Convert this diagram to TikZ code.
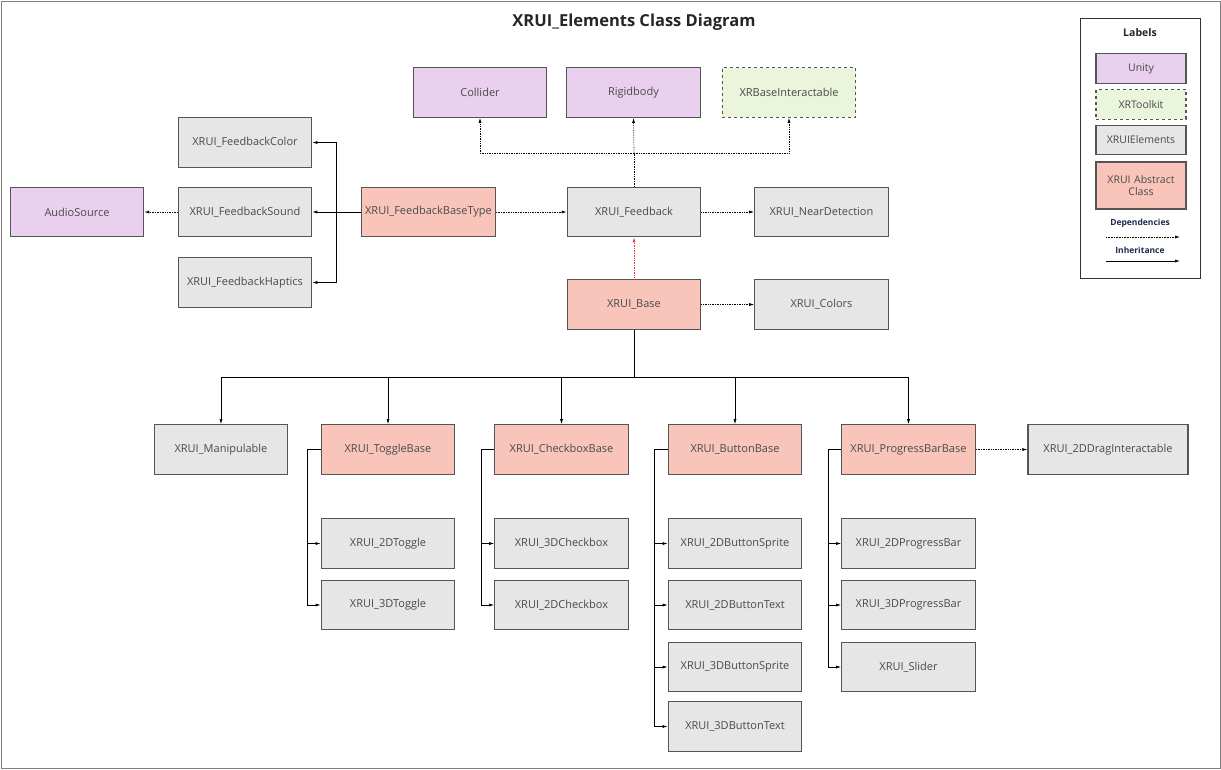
\documentclass[tikz,border=0pt]{standalone}
\usepackage{fontspec}
\setmainfont{Open Sans}
\usetikzlibrary{arrows.meta}
\definecolor{unityfill}{HTML}{E9D0EE}
\definecolor{xrtkfill}{HTML}{EAF5DC}
\definecolor{xruifill}{HTML}{E6E6E6}
\definecolor{absfill}{HTML}{F9C5BB}
\definecolor{boxline}{HTML}{555555}
\definecolor{boxtext}{HTML}{4A4A4A}
\definecolor{navytext}{HTML}{1F2A4D}
\tikzset{
  cls/.style={draw=boxline, line width=1.1pt, minimum width=133.5pt, minimum height=49.5pt,
    inner sep=0pt, text=boxtext, font=\fontsize{11}{13}\selectfont, align=center},
  unity/.style={cls, fill=unityfill},
  xrtk/.style={cls, fill=xrtkfill, dashed},
  xrui/.style={cls, fill=xruifill},
  xabs/.style={cls, fill=absfill},
  legbox/.style={minimum width=90pt, minimum height=29.5pt, font=\fontsize{10.5}{13}\selectfont},
  dep/.style={densely dotted, line width=0.7pt, -{Latex[length=5pt,width=3pt]}},
  inh/.style={line width=0.7pt, -{Latex[length=5pt,width=3pt]}}
}
\begin{document}
\begin{tikzpicture}[x=1pt, y=-1pt]
  % Frame
  \draw[gray, line width=1pt, fill=white] (1,1) rectangle (1220,768);
  \useasboundingbox (0,0) rectangle (1221,769);
  \node[font=\bfseries\fontsize{16.5}{19}\selectfont, text=black!85] (title) at (634,22) {XRUI\_Elements Class Diagram};

  % Unity / XRToolkit
  \node[unity] (collider) at (480,92.5) {Collider};
  \node[unity] (rigid) at (633.5,92.5) {Rigidbody};
  \node[xrtk] (xrbase) at (789,92.5) {XRBaseInteractable};
  \node[unity] (audio) at (77,212) {AudioSource};

  % Feedback
  \node[xrui] (fbcolor) at (245,142.5) {XRUI\_FeedbackColor};
  \node[xrui] (fbsound) at (245,212) {XRUI\_FeedbackSound};
  \node[xrui] (fbhaptics) at (245,282.5) {XRUI\_FeedbackHaptics};
  \node[xabs] (fbbase) at (428.5,212) {XRUI\_FeedbackBaseType};
  \node[xrui] (feedback) at (634,212) {XRUI\_Feedback};
  \node[xrui] (near) at (821.5,212) {XRUI\_NearDetection};

  % Base
  \node[xabs] (base) at (634,304.5) {XRUI\_Base};
  \node[xrui] (colors) at (821.5,304.5) {XRUI\_Colors};

  % Second row
  \node[xrui] (manip) at (221,449.5) {XRUI\_Manipulable};
  \node[xabs] (toggle) at (388,449.5) {XRUI\_ToggleBase};
  \node[xabs] (check) at (561.5,449.5) {XRUI\_CheckboxBase};
  \node[xabs] (button) at (735,449.5) {XRUI\_ButtonBase};
  \node[xabs] (progress) at (908.5,449.5) {XRUI\_ProgressBarBase};
  \node[xrui, minimum width=160pt] (drag) at (1108,449.5) {XRUI\_2DDragInteractable};

  % Children
  \node[xrui] (tog2d) at (388,543.5) {XRUI\_2DToggle};
  \node[xrui] (tog3d) at (388,605) {XRUI\_3DToggle};
  \node[xrui] (chk3d) at (561.5,543.5) {XRUI\_3DCheckbox};
  \node[xrui] (chk2d) at (561.5,605) {XRUI\_2DCheckbox};
  \node[xrui] (btn2ds) at (735,543.5) {XRUI\_2DButtonSprite};
  \node[xrui] (btn2dt) at (735,605) {XRUI\_2DButtonText};
  \node[xrui] (btn3ds) at (735,667) {XRUI\_3DButtonSprite};
  \node[xrui] (btn3dt) at (735,726.5) {XRUI\_3DButtonText};
  \node[xrui] (bar2d) at (908.5,543.5) {XRUI\_2DProgressBar};
  \node[xrui] (bar3d) at (908.5,605) {XRUI\_3DProgressBar};
  \node[xrui] (slider) at (908.5,667) {XRUI\_Slider};

  % Dependencies
  \coordinate (fbup) at (634,153);
  \draw[dep] (feedback.north) -- (fbup) -| (collider.south);
  \draw[dep] (fbup) -- (rigid.south);
  \draw[dep] (fbup) -| (xrbase.south);
  \draw[dep] (fbsound) -- (audio);
  \draw[dep] (fbbase) -- (feedback);
  \draw[dep] (feedback) -- (near);
  \draw[dep] (base) -- (colors);
  \draw[dep, red!80] (base) -- (feedback);
  \draw[dep] (progress) -- (drag);

  % Inheritance
  \coordinate (fbbus) at (336,212);
  \draw[line width=0.9pt] (fbbase.west) -- (fbbus);
  \draw[inh] (fbbus) -- (fbsound);
  \draw[inh] (fbbus) |- (fbcolor);
  \draw[inh] (fbbus) |- (fbhaptics);

  \coordinate (basebus) at (634,377);
  \draw[line width=1pt] (base.south) -- (basebus);
  \foreach \n in {manip,toggle,check,button,progress}
    \draw[inh] (basebus) -| (\n.north);

  \coordinate (togbus) at (307,449.5);
  \draw[line width=0.7pt] (toggle.west) -- (togbus);
  \foreach \n in {tog2d,tog3d} \draw[inh] (togbus) |- (\n.west);
  \coordinate (chkbus) at (481,449.5);
  \draw[line width=0.7pt] (check.west) -- (chkbus);
  \foreach \n in {chk3d,chk2d} \draw[inh] (chkbus) |- (\n.west);
  \coordinate (btnbus) at (654,449.5);
  \draw[line width=0.7pt] (button.west) -- (btnbus);
  \foreach \n in {btn2ds,btn2dt,btn3ds,btn3dt} \draw[inh] (btnbus) |- (\n.west);
  \coordinate (barbus) at (828,449.5);
  \draw[line width=0.7pt] (progress.west) -- (barbus);
  \foreach \n in {bar2d,bar3d,slider} \draw[inh] (barbus) |- (\n.west);

  % Labels
  \node[draw=black!80, line width=0.8pt, minimum width=120pt, minimum height=260pt] (legend) at (1140,148) {};
  \node[font=\bfseries\fontsize{10.5}{12}\selectfont, text=black!85] (legtitle) at (1140,33) {Labels};
  \node[unity, legbox] (legunity) at (1141,68.5) {Unity};
  \node[xrtk, legbox] (legxrtk) at (1141,104.5) {XRToolkit};
  \node[xrui, legbox] (legxrui) at (1141,140) {XRUIElements};
  \node[xabs, legbox, minimum height=47pt, text width=86pt] (legabs) at (1141,185.5) {XRUI Abstract\\[-1pt]Class};
  \node[font=\bfseries\fontsize{8.5}{10}\selectfont, text=navytext] (legdep) at (1140,223) {Dependencies};
  \coordinate (depa) at (1106,237);
  \coordinate (depb) at (1180,237);
  \draw[dep, line width=0.6pt] (depa) -- (depb);
  \node[font=\bfseries\fontsize{8.5}{10}\selectfont, text=navytext] (leginh) at (1140,250) {Inheritance};
  \coordinate (inha) at (1106,261);
  \coordinate (inhb) at (1180,261);
  \draw[inh, line width=0.6pt] (inha) -- (inhb);
\end{tikzpicture}
\end{document}
